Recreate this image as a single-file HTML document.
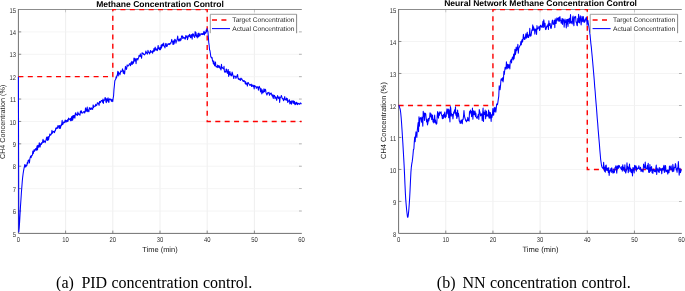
<!DOCTYPE html>
<html><head><meta charset="utf-8"><title>Methane concentration control</title>
<style>
html,body{margin:0;padding:0;background:#fff;}
body{width:685px;height:291px;overflow:hidden;position:relative;}
svg{position:absolute;left:0;top:0;display:block;}
svg text{font-family:"Liberation Sans", sans-serif;text-rendering:geometricPrecision;}
.cap{position:absolute;top:271.7px;font-family:"Liberation Serif", serif;font-size:16px;line-height:22px;color:#000;white-space:pre;}
</style></head>
<body>
<svg width="685" height="291" viewBox="0 0 685 291">
<line x1="65.60" y1="9.5" x2="65.60" y2="233.4" stroke="#e8e8e8" stroke-width="0.7"/>
<line x1="112.80" y1="9.5" x2="112.80" y2="233.4" stroke="#e8e8e8" stroke-width="0.7"/>
<line x1="160.00" y1="9.5" x2="160.00" y2="233.4" stroke="#e8e8e8" stroke-width="0.7"/>
<line x1="207.20" y1="9.5" x2="207.20" y2="233.4" stroke="#e8e8e8" stroke-width="0.7"/>
<line x1="254.40" y1="9.5" x2="254.40" y2="233.4" stroke="#e8e8e8" stroke-width="0.7"/>
<line x1="18.4" y1="211.01" x2="301.6" y2="211.01" stroke="#f1f1f1" stroke-width="0.8"/>
<line x1="18.4" y1="188.62" x2="301.6" y2="188.62" stroke="#f1f1f1" stroke-width="0.8"/>
<line x1="18.4" y1="166.23" x2="301.6" y2="166.23" stroke="#f1f1f1" stroke-width="0.8"/>
<line x1="18.4" y1="143.84" x2="301.6" y2="143.84" stroke="#f1f1f1" stroke-width="0.8"/>
<line x1="18.4" y1="121.45" x2="301.6" y2="121.45" stroke="#f1f1f1" stroke-width="0.8"/>
<line x1="18.4" y1="99.06" x2="301.6" y2="99.06" stroke="#f1f1f1" stroke-width="0.8"/>
<line x1="18.4" y1="76.67" x2="301.6" y2="76.67" stroke="#f1f1f1" stroke-width="0.8"/>
<line x1="18.4" y1="54.28" x2="301.6" y2="54.28" stroke="#f1f1f1" stroke-width="0.8"/>
<line x1="18.4" y1="31.89" x2="301.6" y2="31.89" stroke="#f1f1f1" stroke-width="0.8"/>
<path d="M18.4,9.5 L301.80,9.5" fill="none" stroke="#8c8c8c" stroke-width="1"/>
<path d="M18.4,9.0 L18.4,233.4 L301.80,233.4" fill="none" stroke="#707070" stroke-width="1"/>
<text transform="translate(18.40,241.60) scale(0.84,1)" font-size="7.0" text-anchor="middle" fill="#2e2e2e">0</text>
<line x1="65.60" y1="233.4" x2="65.60" y2="230.6" stroke="#707070" stroke-width="0.8"/>
<line x1="65.60" y1="9.5" x2="65.60" y2="12.3" stroke="#707070" stroke-width="0.6" opacity="0.6"/>
<text transform="translate(65.60,241.60) scale(0.84,1)" font-size="7.0" text-anchor="middle" fill="#2e2e2e">10</text>
<line x1="112.80" y1="233.4" x2="112.80" y2="230.6" stroke="#707070" stroke-width="0.8"/>
<line x1="112.80" y1="9.5" x2="112.80" y2="12.3" stroke="#707070" stroke-width="0.6" opacity="0.6"/>
<text transform="translate(112.80,241.60) scale(0.84,1)" font-size="7.0" text-anchor="middle" fill="#2e2e2e">20</text>
<line x1="160.00" y1="233.4" x2="160.00" y2="230.6" stroke="#707070" stroke-width="0.8"/>
<line x1="160.00" y1="9.5" x2="160.00" y2="12.3" stroke="#707070" stroke-width="0.6" opacity="0.6"/>
<text transform="translate(160.00,241.60) scale(0.84,1)" font-size="7.0" text-anchor="middle" fill="#2e2e2e">30</text>
<line x1="207.20" y1="233.4" x2="207.20" y2="230.6" stroke="#707070" stroke-width="0.8"/>
<line x1="207.20" y1="9.5" x2="207.20" y2="12.3" stroke="#707070" stroke-width="0.6" opacity="0.6"/>
<text transform="translate(207.20,241.60) scale(0.84,1)" font-size="7.0" text-anchor="middle" fill="#2e2e2e">40</text>
<line x1="254.40" y1="233.4" x2="254.40" y2="230.6" stroke="#707070" stroke-width="0.8"/>
<line x1="254.40" y1="9.5" x2="254.40" y2="12.3" stroke="#707070" stroke-width="0.6" opacity="0.6"/>
<text transform="translate(254.40,241.60) scale(0.84,1)" font-size="7.0" text-anchor="middle" fill="#2e2e2e">50</text>
<text transform="translate(301.60,241.60) scale(0.84,1)" font-size="7.0" text-anchor="middle" fill="#2e2e2e">60</text>
<text transform="translate(16.00,236.50) scale(0.84,1)" font-size="7.0" text-anchor="end" fill="#2e2e2e">5</text>
<line x1="18.4" y1="211.01" x2="21.2" y2="211.01" stroke="#707070" stroke-width="0.8"/>
<line x1="301.80" y1="211.01" x2="299.00" y2="211.01" stroke="#707070" stroke-width="0.7" opacity="0.7"/>
<text transform="translate(16.00,214.11) scale(0.84,1)" font-size="7.0" text-anchor="end" fill="#2e2e2e">6</text>
<line x1="18.4" y1="188.62" x2="21.2" y2="188.62" stroke="#707070" stroke-width="0.8"/>
<line x1="301.80" y1="188.62" x2="299.00" y2="188.62" stroke="#707070" stroke-width="0.7" opacity="0.7"/>
<text transform="translate(16.00,191.72) scale(0.84,1)" font-size="7.0" text-anchor="end" fill="#2e2e2e">7</text>
<line x1="18.4" y1="166.23" x2="21.2" y2="166.23" stroke="#707070" stroke-width="0.8"/>
<line x1="301.80" y1="166.23" x2="299.00" y2="166.23" stroke="#707070" stroke-width="0.7" opacity="0.7"/>
<text transform="translate(16.00,169.33) scale(0.84,1)" font-size="7.0" text-anchor="end" fill="#2e2e2e">8</text>
<line x1="18.4" y1="143.84" x2="21.2" y2="143.84" stroke="#707070" stroke-width="0.8"/>
<line x1="301.80" y1="143.84" x2="299.00" y2="143.84" stroke="#707070" stroke-width="0.7" opacity="0.7"/>
<text transform="translate(16.00,146.94) scale(0.84,1)" font-size="7.0" text-anchor="end" fill="#2e2e2e">9</text>
<line x1="18.4" y1="121.45" x2="21.2" y2="121.45" stroke="#707070" stroke-width="0.8"/>
<line x1="301.80" y1="121.45" x2="299.00" y2="121.45" stroke="#707070" stroke-width="0.7" opacity="0.7"/>
<text transform="translate(16.00,124.55) scale(0.84,1)" font-size="7.0" text-anchor="end" fill="#2e2e2e">10</text>
<line x1="18.4" y1="99.06" x2="21.2" y2="99.06" stroke="#707070" stroke-width="0.8"/>
<line x1="301.80" y1="99.06" x2="299.00" y2="99.06" stroke="#707070" stroke-width="0.7" opacity="0.7"/>
<text transform="translate(16.00,102.16) scale(0.84,1)" font-size="7.0" text-anchor="end" fill="#2e2e2e">11</text>
<line x1="18.4" y1="76.67" x2="21.2" y2="76.67" stroke="#707070" stroke-width="0.8"/>
<line x1="301.80" y1="76.67" x2="299.00" y2="76.67" stroke="#707070" stroke-width="0.7" opacity="0.7"/>
<text transform="translate(16.00,79.77) scale(0.84,1)" font-size="7.0" text-anchor="end" fill="#2e2e2e">12</text>
<line x1="18.4" y1="54.28" x2="21.2" y2="54.28" stroke="#707070" stroke-width="0.8"/>
<line x1="301.80" y1="54.28" x2="299.00" y2="54.28" stroke="#707070" stroke-width="0.7" opacity="0.7"/>
<text transform="translate(16.00,57.38) scale(0.84,1)" font-size="7.0" text-anchor="end" fill="#2e2e2e">13</text>
<line x1="18.4" y1="31.89" x2="21.2" y2="31.89" stroke="#707070" stroke-width="0.8"/>
<line x1="301.80" y1="31.89" x2="299.00" y2="31.89" stroke="#707070" stroke-width="0.7" opacity="0.7"/>
<text transform="translate(16.00,34.99) scale(0.84,1)" font-size="7.0" text-anchor="end" fill="#2e2e2e">14</text>
<text transform="translate(16.00,12.60) scale(0.84,1)" font-size="7.0" text-anchor="end" fill="#2e2e2e">15</text>
<clipPath id="clip18"><rect x="16.9" y="9.0" width="286.20000000000005" height="225.9"/></clipPath>
<g clip-path="url(#clip18)">
<path d="M18.40,76.67 L112.80,76.67 L112.80,9.50 L207.20,9.50 L207.20,121.45 L301.60,121.45" fill="none" stroke="#ff0000" stroke-width="1.4" stroke-dasharray="5 4.4"/>
<polyline points="18.40,76.67 18.82,232.01 19.25,227.59 19.67,220.96 20.10,213.10 20.52,205.89 20.95,199.48 21.37,192.96 21.80,187.41 22.22,181.97 22.65,177.32 23.07,173.97 23.50,171.07 23.92,168.90 24.35,166.77 24.77,164.59 25.20,167.07 25.62,165.07 26.05,166.67 26.47,165.08 26.90,165.50 27.32,162.39 27.75,163.61 28.17,160.45 28.60,160.07 29.02,160.01 29.44,162.99 29.87,158.93 30.29,157.10 30.72,156.01 31.14,157.73 31.57,155.44 31.99,155.69 32.42,154.77 32.84,151.11 33.27,153.61 33.69,151.66 34.12,149.65 34.54,151.30 34.97,149.88 35.39,149.04 35.82,148.46 36.24,150.53 36.67,148.17 37.09,145.80 37.52,149.95 37.94,145.38 38.37,146.25 38.79,147.22 39.22,142.68 39.64,144.41 40.06,147.08 40.49,144.55 40.91,143.46 41.34,144.48 41.76,142.52 42.19,143.20 42.61,141.46 43.04,139.29 43.46,142.37 43.89,140.88 44.31,141.79 44.74,140.89 45.16,142.62 45.59,141.00 46.01,140.14 46.44,137.80 46.86,137.13 47.29,140.55 47.71,139.04 48.14,136.45 48.56,139.97 48.99,137.26 49.41,136.33 49.84,133.96 50.26,134.42 50.68,135.27 51.11,134.56 51.53,133.54 51.96,130.23 52.38,133.21 52.81,132.66 53.23,131.39 53.66,131.81 54.08,131.46 54.51,132.66 54.93,130.56 55.36,130.83 55.78,128.00 56.21,128.45 56.63,128.74 57.06,127.25 57.48,128.31 57.91,125.61 58.33,127.08 58.76,125.90 59.18,128.45 59.61,125.44 60.03,128.31 60.46,128.31 60.88,124.99 61.30,125.77 61.73,123.77 62.15,120.24 62.58,124.72 63.00,124.22 63.43,122.68 63.85,121.90 64.28,122.73 64.70,122.11 65.13,120.10 65.55,120.22 65.98,122.34 66.40,120.67 66.83,120.48 67.25,121.63 67.68,119.52 68.10,121.23 68.53,118.06 68.95,119.29 69.38,119.15 69.80,119.63 70.23,118.54 70.65,120.82 71.08,119.15 71.50,116.82 71.92,120.62 72.35,116.05 72.77,120.01 73.20,115.59 73.62,117.85 74.05,115.22 74.47,115.75 74.90,118.21 75.32,113.48 75.75,112.68 76.17,114.83 76.60,114.92 77.02,114.40 77.45,115.42 77.87,111.99 78.30,114.30 78.72,113.69 79.15,114.72 79.57,114.34 80.00,115.18 80.42,110.99 80.85,112.76 81.27,110.75 81.70,112.24 82.12,113.19 82.54,112.68 82.97,112.87 83.39,111.72 83.82,111.88 84.24,111.61 84.67,113.02 85.09,111.93 85.52,107.90 85.94,111.13 86.37,111.26 86.79,108.93 87.22,107.11 87.64,111.65 88.07,109.74 88.49,110.23 88.92,111.80 89.34,107.59 89.77,108.81 90.19,108.44 90.62,109.52 91.04,107.69 91.47,109.10 91.89,108.19 92.32,109.39 92.74,109.08 93.16,104.90 93.59,107.56 94.01,106.00 94.44,106.17 94.86,106.35 95.29,106.28 95.71,104.28 96.14,105.66 96.56,105.34 96.99,104.82 97.41,102.67 97.84,103.11 98.26,103.03 98.69,104.24 99.11,105.37 99.54,101.60 99.96,101.53 100.39,102.64 100.81,101.38 101.24,100.78 101.66,100.48 102.09,100.43 102.51,102.33 102.94,99.04 103.36,103.40 103.78,99.99 104.21,100.55 104.63,99.70 105.06,97.55 105.48,97.93 105.91,101.79 106.33,102.65 106.76,98.65 107.18,101.15 107.61,99.46 108.03,97.83 108.46,101.71 108.88,102.39 109.31,98.81 109.73,99.12 110.16,99.47 110.58,99.10 111.01,100.40 111.43,101.33 111.86,99.29 112.28,100.62 112.71,101.63 113.13,98.33 113.56,95.98 113.98,89.35 114.40,85.56 114.83,80.84 115.25,80.02 115.68,79.33 116.10,76.87 116.53,77.95 116.95,75.56 117.38,74.62 117.80,71.25 118.23,76.03 118.65,72.07 119.08,73.48 119.50,73.22 119.93,74.85 120.35,73.20 120.78,70.83 121.20,71.79 121.63,71.21 122.05,71.25 122.48,68.88 122.90,70.34 123.33,73.50 123.75,70.81 124.18,72.30 124.60,74.05 125.02,69.81 125.45,66.40 125.87,68.01 126.30,69.46 126.72,68.43 127.15,64.80 127.57,66.11 128.00,66.02 128.42,65.84 128.85,65.31 129.27,63.86 129.70,63.64 130.12,63.86 130.55,65.78 130.97,62.62 131.40,64.31 131.82,61.26 132.25,64.51 132.67,62.43 133.10,61.70 133.52,63.30 133.95,58.08 134.37,58.19 134.80,61.11 135.22,58.74 135.64,59.10 136.07,63.63 136.49,58.81 136.92,59.03 137.34,58.49 137.77,60.01 138.19,58.45 138.62,57.88 139.04,55.43 139.47,56.30 139.89,56.35 140.32,53.76 140.74,56.49 141.17,56.22 141.59,58.27 142.02,52.85 142.44,53.63 142.87,53.14 143.29,53.68 143.72,54.42 144.14,54.20 144.57,54.85 144.99,54.21 145.42,53.48 145.84,51.03 146.26,52.35 146.69,53.22 147.11,53.70 147.54,53.97 147.96,50.28 148.39,51.94 148.81,52.46 149.24,52.65 149.66,53.88 150.09,51.88 150.51,50.48 150.94,52.38 151.36,52.04 151.79,51.92 152.21,51.04 152.64,53.28 153.06,50.79 153.49,51.45 153.91,48.62 154.34,51.19 154.76,48.82 155.19,47.16 155.61,49.92 156.04,50.22 156.46,48.91 156.88,49.17 157.31,50.62 157.73,48.00 158.16,45.42 158.58,48.75 159.01,48.48 159.43,49.71 159.86,47.28 160.28,49.67 160.71,48.88 161.13,44.95 161.56,47.99 161.98,44.50 162.41,43.98 162.83,45.87 163.26,45.39 163.68,43.12 164.11,46.20 164.53,46.61 164.96,47.90 165.38,45.55 165.81,43.40 166.23,43.93 166.66,46.56 167.08,46.29 167.50,45.27 167.93,43.84 168.35,44.51 168.78,43.79 169.20,43.57 169.63,44.62 170.05,43.95 170.48,42.91 170.90,43.17 171.33,41.68 171.75,39.40 172.18,41.38 172.60,41.92 173.03,44.55 173.45,40.84 173.88,44.11 174.30,43.01 174.73,39.25 175.15,39.50 175.58,40.81 176.00,43.12 176.43,40.74 176.85,40.92 177.28,38.52 177.70,36.03 178.12,39.20 178.55,40.46 178.97,41.19 179.40,39.11 179.82,39.12 180.25,40.79 180.67,38.57 181.10,39.96 181.52,36.07 181.95,35.95 182.37,35.90 182.80,38.57 183.22,36.90 183.65,37.74 184.07,37.99 184.50,37.62 184.92,39.03 185.35,39.10 185.77,35.55 186.20,37.33 186.62,36.81 187.05,35.75 187.47,39.71 187.90,38.03 188.32,36.29 188.74,35.34 189.17,36.43 189.59,34.23 190.02,35.41 190.44,37.68 190.87,37.44 191.29,34.64 191.72,35.25 192.14,39.27 192.57,33.83 192.99,35.15 193.42,34.06 193.84,36.53 194.27,36.56 194.69,37.46 195.12,31.46 195.54,35.64 195.97,32.62 196.39,36.36 196.82,35.04 197.24,37.90 197.67,35.92 198.09,33.37 198.52,36.89 198.94,33.13 199.36,34.07 199.79,36.10 200.21,35.08 200.64,34.51 201.06,33.52 201.49,34.36 201.91,34.52 202.34,33.45 202.76,34.60 203.19,34.58 203.61,32.49 204.04,31.22 204.46,34.90 204.89,32.35 205.31,32.98 205.74,33.20 206.16,30.07 206.59,32.00 207.01,28.63 207.44,30.77 207.86,30.71 208.29,35.79 208.71,42.14 209.14,45.13 209.56,49.74 209.98,50.74 210.41,53.68 210.83,57.08 211.26,56.96 211.68,58.13 212.11,57.58 212.53,61.31 212.96,60.80 213.38,63.92 213.81,61.01 214.23,64.21 214.66,65.82 215.08,63.31 215.51,61.93 215.93,66.78 216.36,66.48 216.78,66.73 217.21,67.58 217.63,65.09 218.06,67.07 218.48,67.14 218.91,65.48 219.33,67.75 219.76,66.19 220.18,68.46 220.60,68.83 221.03,69.95 221.45,64.25 221.88,67.88 222.30,67.31 222.73,68.21 223.15,68.38 223.58,68.94 224.00,66.29 224.43,71.35 224.85,72.32 225.28,71.55 225.70,72.00 226.13,68.98 226.55,69.14 226.98,72.24 227.40,73.44 227.83,71.84 228.25,69.42 228.68,76.37 229.10,71.67 229.53,74.72 229.95,71.52 230.38,74.99 230.80,73.92 231.22,76.02 231.65,75.52 232.07,72.01 232.50,73.09 232.92,75.24 233.35,76.48 233.77,78.56 234.20,76.16 234.62,76.10 235.05,76.23 235.47,76.31 235.90,78.43 236.32,76.83 236.75,77.00 237.17,75.19 237.60,74.48 238.02,78.01 238.45,79.25 238.87,78.50 239.30,79.65 239.72,79.81 240.15,78.87 240.57,80.41 241.00,78.05 241.42,79.31 241.84,78.91 242.27,79.79 242.69,80.62 243.12,81.34 243.54,80.63 243.97,81.39 244.39,80.76 244.82,81.32 245.24,83.72 245.67,81.87 246.09,84.35 246.52,83.59 246.94,83.24 247.37,86.08 247.79,82.54 248.22,82.56 248.64,83.29 249.07,84.16 249.49,84.39 249.92,85.58 250.34,84.58 250.77,84.90 251.19,84.17 251.62,86.59 252.04,84.75 252.46,85.55 252.89,86.37 253.31,86.68 253.74,85.20 254.16,88.90 254.59,85.54 255.01,86.11 255.44,86.35 255.86,86.30 256.29,88.28 256.71,88.01 257.14,86.69 257.56,86.99 257.99,87.36 258.41,90.16 258.84,87.07 259.26,86.37 259.69,87.22 260.11,88.83 260.54,92.00 260.96,88.45 261.39,90.05 261.81,94.05 262.24,89.88 262.66,92.78 263.08,92.73 263.51,91.84 263.93,88.82 264.36,91.66 264.78,90.92 265.21,89.18 265.63,89.86 266.06,92.94 266.48,93.54 266.91,95.00 267.33,94.07 267.76,92.53 268.18,92.80 268.61,93.21 269.03,92.25 269.46,95.32 269.88,94.21 270.31,93.39 270.73,93.86 271.16,93.01 271.58,94.36 272.01,95.84 272.43,94.85 272.86,97.18 273.28,98.38 273.70,94.91 274.13,96.12 274.55,95.45 274.98,98.77 275.40,96.71 275.83,97.24 276.25,98.21 276.68,100.36 277.10,97.57 277.53,95.62 277.95,96.52 278.38,98.39 278.80,97.82 279.23,96.86 279.65,102.49 280.08,98.24 280.50,97.22 280.93,97.08 281.35,95.50 281.78,96.70 282.20,98.40 282.63,98.86 283.05,98.64 283.48,100.67 283.90,99.95 284.32,98.28 284.75,96.50 285.17,99.94 285.60,99.66 286.02,99.59 286.45,98.04 286.87,100.55 287.30,98.44 287.72,102.45 288.15,101.34 288.57,101.28 289.00,100.12 289.42,99.74 289.85,103.98 290.27,103.37 290.70,101.19 291.12,102.91 291.55,104.16 291.97,100.51 292.40,101.45 292.82,101.64 293.25,103.29 293.67,100.81 294.10,103.41 294.52,101.44 294.94,104.76 295.37,104.59 295.79,102.65 296.22,104.04 296.64,102.20 297.07,102.97 297.49,104.72 297.92,103.29 298.34,103.79 298.77,103.42 299.19,104.27 299.62,104.17 300.04,103.44 300.47,102.93 300.89,103.14 301.32,104.25" fill="none" stroke="#0000ff" stroke-width="1.05" stroke-linejoin="round"/>
</g>
<text x="160.00" y="251.6" font-size="7.45" text-anchor="middle" fill="#161616">Time (min)</text>
<text transform="translate(4.9,121.85) rotate(-90)" font-size="7.2" text-anchor="middle" fill="#1c1c1c">CH4 Concentration (%)</text>
<text x="160.00" y="6.8" font-size="8.55" font-weight="bold" text-anchor="middle" fill="#000">Methane Concentration Control</text>
<rect x="210.3" y="14.3" width="86.30" height="18.9" fill="#fff"/>
<path d="M210.3,33.2 L210.3,14.3 L296.6,14.3" fill="none" stroke="#868686" stroke-width="0.8"/>
<path d="M296.6,14.3 L296.6,33.2" fill="none" stroke="#7a7a7a" stroke-width="0.9"/>
<line x1="212.00" y1="20" x2="226.80" y2="20" stroke="#ff0000" stroke-width="1.4" stroke-dasharray="5 4.4"/>
<line x1="212.00" y1="28.6" x2="230.00" y2="28.6" stroke="#0000ff" stroke-width="1.05"/>
<text x="232.30" y="22.3" font-size="6.7" fill="#2a2a2a">Target Concentration</text>
<text x="232.30" y="31.35" font-size="6.7" fill="#2a2a2a">Actual Concentration</text>
<line x1="445.77" y1="9.5" x2="445.77" y2="233.4" stroke="#e8e8e8" stroke-width="0.7"/>
<line x1="492.93" y1="9.5" x2="492.93" y2="233.4" stroke="#e8e8e8" stroke-width="0.7"/>
<line x1="540.10" y1="9.5" x2="540.10" y2="233.4" stroke="#e8e8e8" stroke-width="0.7"/>
<line x1="587.27" y1="9.5" x2="587.27" y2="233.4" stroke="#e8e8e8" stroke-width="0.7"/>
<line x1="634.43" y1="9.5" x2="634.43" y2="233.4" stroke="#e8e8e8" stroke-width="0.7"/>
<line x1="398.6" y1="201.41" x2="681.6" y2="201.41" stroke="#f1f1f1" stroke-width="0.8"/>
<line x1="398.6" y1="169.43" x2="681.6" y2="169.43" stroke="#f1f1f1" stroke-width="0.8"/>
<line x1="398.6" y1="137.44" x2="681.6" y2="137.44" stroke="#f1f1f1" stroke-width="0.8"/>
<line x1="398.6" y1="105.46" x2="681.6" y2="105.46" stroke="#f1f1f1" stroke-width="0.8"/>
<line x1="398.6" y1="73.47" x2="681.6" y2="73.47" stroke="#f1f1f1" stroke-width="0.8"/>
<line x1="398.6" y1="41.49" x2="681.6" y2="41.49" stroke="#f1f1f1" stroke-width="0.8"/>
<path d="M398.6,9.5 L681.80,9.5" fill="none" stroke="#8c8c8c" stroke-width="1"/>
<path d="M398.6,9.0 L398.6,233.4 L681.80,233.4" fill="none" stroke="#707070" stroke-width="1"/>
<text transform="translate(398.60,241.60) scale(0.84,1)" font-size="7.0" text-anchor="middle" fill="#2e2e2e">0</text>
<line x1="445.77" y1="233.4" x2="445.77" y2="230.6" stroke="#707070" stroke-width="0.8"/>
<line x1="445.77" y1="9.5" x2="445.77" y2="12.3" stroke="#707070" stroke-width="0.6" opacity="0.6"/>
<text transform="translate(445.77,241.60) scale(0.84,1)" font-size="7.0" text-anchor="middle" fill="#2e2e2e">10</text>
<line x1="492.93" y1="233.4" x2="492.93" y2="230.6" stroke="#707070" stroke-width="0.8"/>
<line x1="492.93" y1="9.5" x2="492.93" y2="12.3" stroke="#707070" stroke-width="0.6" opacity="0.6"/>
<text transform="translate(492.93,241.60) scale(0.84,1)" font-size="7.0" text-anchor="middle" fill="#2e2e2e">20</text>
<line x1="540.10" y1="233.4" x2="540.10" y2="230.6" stroke="#707070" stroke-width="0.8"/>
<line x1="540.10" y1="9.5" x2="540.10" y2="12.3" stroke="#707070" stroke-width="0.6" opacity="0.6"/>
<text transform="translate(540.10,241.60) scale(0.84,1)" font-size="7.0" text-anchor="middle" fill="#2e2e2e">30</text>
<line x1="587.27" y1="233.4" x2="587.27" y2="230.6" stroke="#707070" stroke-width="0.8"/>
<line x1="587.27" y1="9.5" x2="587.27" y2="12.3" stroke="#707070" stroke-width="0.6" opacity="0.6"/>
<text transform="translate(587.27,241.60) scale(0.84,1)" font-size="7.0" text-anchor="middle" fill="#2e2e2e">40</text>
<line x1="634.43" y1="233.4" x2="634.43" y2="230.6" stroke="#707070" stroke-width="0.8"/>
<line x1="634.43" y1="9.5" x2="634.43" y2="12.3" stroke="#707070" stroke-width="0.6" opacity="0.6"/>
<text transform="translate(634.43,241.60) scale(0.84,1)" font-size="7.0" text-anchor="middle" fill="#2e2e2e">50</text>
<text transform="translate(681.60,241.60) scale(0.84,1)" font-size="7.0" text-anchor="middle" fill="#2e2e2e">60</text>
<text transform="translate(396.20,236.50) scale(0.84,1)" font-size="7.0" text-anchor="end" fill="#2e2e2e">8</text>
<line x1="398.6" y1="201.41" x2="401.40000000000003" y2="201.41" stroke="#707070" stroke-width="0.8"/>
<line x1="681.80" y1="201.41" x2="679.00" y2="201.41" stroke="#707070" stroke-width="0.7" opacity="0.7"/>
<text transform="translate(396.20,204.51) scale(0.84,1)" font-size="7.0" text-anchor="end" fill="#2e2e2e">9</text>
<line x1="398.6" y1="169.43" x2="401.40000000000003" y2="169.43" stroke="#707070" stroke-width="0.8"/>
<line x1="681.80" y1="169.43" x2="679.00" y2="169.43" stroke="#707070" stroke-width="0.7" opacity="0.7"/>
<text transform="translate(396.20,172.53) scale(0.84,1)" font-size="7.0" text-anchor="end" fill="#2e2e2e">10</text>
<line x1="398.6" y1="137.44" x2="401.40000000000003" y2="137.44" stroke="#707070" stroke-width="0.8"/>
<line x1="681.80" y1="137.44" x2="679.00" y2="137.44" stroke="#707070" stroke-width="0.7" opacity="0.7"/>
<text transform="translate(396.20,140.54) scale(0.84,1)" font-size="7.0" text-anchor="end" fill="#2e2e2e">11</text>
<line x1="398.6" y1="105.46" x2="401.40000000000003" y2="105.46" stroke="#707070" stroke-width="0.8"/>
<line x1="681.80" y1="105.46" x2="679.00" y2="105.46" stroke="#707070" stroke-width="0.7" opacity="0.7"/>
<text transform="translate(396.20,108.56) scale(0.84,1)" font-size="7.0" text-anchor="end" fill="#2e2e2e">12</text>
<line x1="398.6" y1="73.47" x2="401.40000000000003" y2="73.47" stroke="#707070" stroke-width="0.8"/>
<line x1="681.80" y1="73.47" x2="679.00" y2="73.47" stroke="#707070" stroke-width="0.7" opacity="0.7"/>
<text transform="translate(396.20,76.57) scale(0.84,1)" font-size="7.0" text-anchor="end" fill="#2e2e2e">13</text>
<line x1="398.6" y1="41.49" x2="401.40000000000003" y2="41.49" stroke="#707070" stroke-width="0.8"/>
<line x1="681.80" y1="41.49" x2="679.00" y2="41.49" stroke="#707070" stroke-width="0.7" opacity="0.7"/>
<text transform="translate(396.20,44.59) scale(0.84,1)" font-size="7.0" text-anchor="end" fill="#2e2e2e">14</text>
<text transform="translate(396.20,12.60) scale(0.84,1)" font-size="7.0" text-anchor="end" fill="#2e2e2e">15</text>
<clipPath id="clip398"><rect x="397.1" y="9.0" width="286.0" height="225.9"/></clipPath>
<g clip-path="url(#clip398)">
<path d="M398.60,105.46 L492.93,105.46 L492.93,9.50 L587.27,9.50 L587.27,169.43 L681.60,169.43" fill="none" stroke="#ff0000" stroke-width="1.4" stroke-dasharray="5 4.4"/>
<polyline points="398.60,105.46 399.02,105.47 399.45,107.17 399.87,108.25 400.30,109.94 400.72,112.96 401.15,117.55 401.57,122.92 402.00,129.47 402.42,136.33 402.85,142.99 403.27,150.46 403.69,157.69 404.12,165.35 404.54,174.39 404.97,184.51 405.39,193.43 405.82,200.66 406.24,205.36 406.67,210.19 407.09,213.73 407.51,217.23 407.94,217.28 408.36,214.36 408.79,210.15 409.21,204.62 409.64,198.07 410.06,189.99 410.49,180.46 410.91,172.26 411.34,167.07 411.76,163.88 412.18,161.64 412.61,158.50 413.03,154.20 413.46,149.42 413.88,149.03 414.31,141.61 414.73,137.14 415.16,141.74 415.58,135.87 416.00,131.83 416.43,134.06 416.85,137.37 417.28,130.31 417.70,126.30 418.13,122.60 418.55,131.66 418.98,116.75 419.40,126.24 419.83,119.12 420.25,117.90 420.67,117.66 421.10,119.60 421.52,122.27 421.95,116.99 422.37,120.90 422.80,126.14 423.22,111.17 423.65,116.67 424.07,112.86 424.49,120.43 424.92,113.41 425.34,113.28 425.77,114.03 426.19,118.69 426.62,122.03 427.04,119.47 427.47,125.00 427.89,123.14 428.31,118.17 428.74,121.04 429.16,119.11 429.59,118.34 430.01,112.67 430.44,113.66 430.86,116.89 431.29,113.99 431.71,119.66 432.14,118.70 432.56,115.08 432.98,121.91 433.41,119.40 433.83,122.97 434.26,119.83 434.68,115.04 435.11,122.39 435.53,120.00 435.96,123.79 436.38,124.09 436.81,123.59 437.23,115.65 437.65,111.49 438.08,116.45 438.50,118.09 438.93,112.76 439.35,115.50 439.78,111.88 440.20,113.33 440.63,113.17 441.05,111.79 441.47,115.13 441.90,115.14 442.32,118.81 442.75,115.37 443.17,118.59 443.60,114.36 444.02,117.12 444.45,113.65 444.87,112.00 445.30,117.77 445.72,115.79 446.14,116.59 446.57,111.85 446.99,108.81 447.42,110.92 447.84,113.98 448.27,109.09 448.69,117.83 449.12,109.74 449.54,116.02 449.96,121.91 450.39,106.48 450.81,108.70 451.24,116.24 451.66,113.73 452.09,114.69 452.51,114.61 452.94,119.06 453.36,115.05 453.79,111.92 454.21,112.14 454.63,109.75 455.06,113.65 455.48,106.75 455.91,115.18 456.33,112.61 456.76,118.49 457.18,117.08 457.61,109.98 458.03,116.28 458.45,113.36 458.88,116.49 459.30,121.22 459.73,121.27 460.15,123.28 460.58,123.34 461.00,120.12 461.43,119.95 461.85,122.97 462.28,123.68 462.70,119.21 463.12,119.47 463.55,115.77 463.97,110.58 464.40,115.47 464.82,117.75 465.25,118.81 465.67,120.57 466.10,120.92 466.52,121.81 466.94,119.70 467.37,120.72 467.79,117.28 468.22,120.48 468.64,118.97 469.07,121.15 469.49,111.65 469.92,113.99 470.34,110.08 470.76,112.52 471.19,111.24 471.61,116.69 472.04,114.00 472.46,108.05 472.89,119.17 473.31,112.35 473.74,110.76 474.16,114.72 474.59,113.62 475.01,111.09 475.43,116.42 475.86,113.10 476.28,117.43 476.71,117.92 477.13,118.48 477.56,116.75 477.98,115.63 478.41,114.25 478.83,119.42 479.25,109.61 479.68,111.35 480.10,112.85 480.53,115.96 480.95,115.45 481.38,113.74 481.80,114.25 482.23,120.67 482.65,113.71 483.08,108.02 483.50,121.59 483.92,112.01 484.35,113.71 484.77,114.37 485.20,110.04 485.62,118.74 486.05,114.52 486.47,111.03 486.90,116.21 487.32,115.87 487.75,114.79 488.17,116.22 488.59,109.97 489.02,117.99 489.44,112.03 489.87,118.12 490.29,112.45 490.72,114.37 491.14,121.48 491.57,114.73 491.99,117.39 492.41,114.81 492.84,108.53 493.26,114.96 493.69,115.15 494.11,107.87 494.54,111.65 494.96,107.21 495.39,109.31 495.81,112.27 496.24,108.67 496.66,104.11 497.08,103.96 497.51,104.62 497.93,101.97 498.36,98.82 498.78,96.07 499.21,85.69 499.63,88.56 500.06,89.79 500.48,86.39 500.90,80.24 501.33,78.64 501.75,79.63 502.18,80.52 502.60,77.68 503.03,82.03 503.45,79.20 503.88,71.37 504.30,74.45 504.73,70.41 505.15,67.17 505.57,67.87 506.00,69.18 506.42,61.89 506.85,65.71 507.27,68.64 507.70,64.23 508.12,64.82 508.55,67.95 508.97,64.66 509.39,64.89 509.82,68.89 510.24,61.82 510.67,60.61 511.09,59.58 511.52,62.98 511.94,59.03 512.37,57.43 512.79,56.95 513.22,59.99 513.64,53.93 514.06,58.82 514.49,55.10 514.91,49.36 515.34,54.61 515.76,52.85 516.19,47.01 516.61,50.71 517.04,49.47 517.46,47.47 517.88,44.37 518.31,53.19 518.73,48.10 519.16,47.57 519.58,46.42 520.01,45.45 520.43,45.12 520.86,41.50 521.28,44.82 521.71,40.90 522.13,39.60 522.55,42.06 522.98,39.04 523.40,34.36 523.83,37.19 524.25,39.52 524.68,37.65 525.10,39.11 525.53,35.88 525.95,33.70 526.37,38.16 526.80,36.52 527.22,32.15 527.65,37.14 528.07,34.65 528.50,37.56 528.92,36.48 529.35,35.18 529.77,28.31 530.20,35.45 530.62,36.09 531.04,35.61 531.47,32.62 531.89,29.89 532.32,30.44 532.74,24.90 533.17,30.32 533.59,26.74 534.02,29.89 534.44,28.90 534.86,34.10 535.29,29.87 535.71,28.95 536.14,28.97 536.56,34.58 536.99,25.65 537.41,29.22 537.84,28.79 538.26,27.98 538.69,27.84 539.11,26.20 539.53,30.55 539.96,29.54 540.38,25.71 540.81,25.22 541.23,26.71 541.66,26.84 542.08,27.44 542.51,24.74 542.93,21.22 543.35,27.48 543.78,19.81 544.20,22.80 544.63,26.92 545.05,23.24 545.48,29.38 545.90,29.61 546.33,28.14 546.75,26.05 547.17,25.89 547.60,26.69 548.02,24.12 548.45,29.59 548.87,20.88 549.30,25.52 549.72,23.69 550.15,23.51 550.57,27.55 551.00,28.53 551.42,27.25 551.84,23.70 552.27,20.57 552.69,20.17 553.12,24.44 553.54,23.86 553.97,23.86 554.39,20.35 554.82,27.63 555.24,18.76 555.66,23.57 556.09,23.58 556.51,19.87 556.94,17.73 557.36,20.09 557.79,18.46 558.21,21.24 558.64,17.69 559.06,17.46 559.49,21.32 559.91,16.58 560.33,20.05 560.76,20.49 561.18,23.26 561.61,21.81 562.03,18.52 562.46,24.51 562.88,18.71 563.31,19.55 563.73,20.49 564.15,27.26 564.58,21.64 565.00,19.14 565.43,22.59 565.85,20.95 566.28,28.02 566.70,19.62 567.13,23.86 567.55,19.29 567.98,26.57 568.40,19.18 568.82,21.47 569.25,18.22 569.67,23.35 570.10,22.63 570.52,14.53 570.95,23.05 571.37,22.78 571.80,21.45 572.22,23.93 572.64,17.69 573.07,16.06 573.49,22.99 573.92,25.83 574.34,17.37 574.77,16.87 575.19,17.71 575.62,16.39 576.04,22.27 576.47,21.87 576.89,25.23 577.31,25.66 577.74,18.44 578.16,22.45 578.59,14.25 579.01,20.44 579.44,22.89 579.86,18.84 580.29,15.72 580.71,19.87 581.13,24.90 581.56,19.90 581.98,16.36 582.41,21.08 582.83,21.73 583.26,16.45 583.68,19.27 584.11,22.55 584.53,20.21 584.96,21.70 585.38,18.92 585.80,19.93 586.23,17.18 586.65,18.35 587.08,25.23 587.50,20.49 587.93,20.59 588.35,23.98 588.78,25.80 589.20,28.66 589.62,31.88 590.05,34.82 590.47,39.31 590.90,43.83 591.32,47.14 591.75,51.96 592.17,56.21 592.60,61.03 593.02,65.83 593.45,70.81 593.87,75.66 594.29,80.74 594.72,86.84 595.14,91.31 595.57,97.18 595.99,102.35 596.42,107.23 596.84,112.91 597.27,118.77 597.69,123.23 598.12,129.27 598.54,134.12 598.96,139.10 599.39,143.96 599.81,149.83 600.24,154.45 600.66,159.40 601.09,162.41 601.51,165.25 601.94,166.90 602.36,167.73 602.78,168.23 603.21,168.67 603.63,162.39 604.06,167.98 604.48,171.21 604.91,166.94 605.33,172.28 605.76,165.37 606.18,165.04 606.61,170.05 607.03,170.50 607.45,168.08 607.88,168.68 608.30,172.48 608.73,167.64 609.15,175.52 609.58,171.25 610.00,170.57 610.43,170.90 610.85,168.59 611.27,172.48 611.70,167.69 612.12,169.44 612.55,171.60 612.97,173.20 613.40,172.51 613.82,168.96 614.25,172.62 614.67,170.39 615.10,167.31 615.52,167.36 615.94,165.73 616.37,170.43 616.79,173.18 617.22,166.06 617.64,168.42 618.07,165.86 618.49,168.31 618.92,165.34 619.34,165.81 619.76,166.77 620.19,167.71 620.61,167.72 621.04,168.72 621.46,169.48 621.89,166.44 622.31,171.10 622.74,164.66 623.16,169.28 623.59,167.29 624.01,170.71 624.43,171.12 624.86,164.84 625.28,171.06 625.71,173.05 626.13,171.42 626.56,169.95 626.98,162.67 627.41,168.98 627.83,166.66 628.25,172.69 628.68,168.65 629.10,167.24 629.53,164.05 629.95,171.37 630.38,167.93 630.80,169.19 631.23,172.78 631.65,169.51 632.08,170.50 632.50,175.90 632.92,167.48 633.35,167.80 633.77,169.98 634.20,172.96 634.62,165.18 635.05,168.45 635.47,166.90 635.90,165.81 636.32,171.32 636.74,167.03 637.17,169.35 637.59,168.77 638.02,168.27 638.44,168.53 638.87,165.68 639.29,168.17 639.72,169.39 640.14,168.95 640.57,167.22 640.99,171.44 641.41,169.99 641.84,169.60 642.26,171.25 642.69,170.54 643.11,172.05 643.54,164.13 643.96,165.72 644.39,166.98 644.81,168.21 645.23,162.03 645.66,167.36 646.08,169.09 646.51,168.62 646.93,168.26 647.36,165.26 647.78,169.56 648.21,163.23 648.63,172.21 649.06,168.06 649.48,172.38 649.90,164.51 650.33,171.13 650.75,170.44 651.18,167.19 651.60,166.59 652.03,172.83 652.45,170.08 652.88,173.46 653.30,168.95 653.72,169.82 654.15,170.68 654.57,171.59 655.00,170.55 655.42,171.85 655.85,167.91 656.27,164.97 656.70,174.57 657.12,169.16 657.55,170.23 657.97,167.92 658.39,171.93 658.82,169.82 659.24,172.48 659.67,167.57 660.09,169.91 660.52,170.19 660.94,168.69 661.37,170.54 661.79,173.83 662.21,168.16 662.64,169.07 663.06,170.08 663.49,166.84 663.91,165.36 664.34,172.38 664.76,172.11 665.19,165.42 665.61,165.99 666.04,171.14 666.46,171.73 666.88,170.52 667.31,170.01 667.73,174.08 668.16,170.11 668.58,172.77 669.01,172.72 669.43,166.10 669.86,170.05 670.28,168.54 670.70,166.54 671.13,165.85 671.55,169.67 671.98,169.60 672.40,171.73 672.83,164.24 673.25,166.91 673.68,171.44 674.10,168.66 674.53,167.31 674.95,167.65 675.37,163.63 675.80,164.83 676.22,170.00 676.65,168.86 677.07,172.34 677.50,167.86 677.92,168.63 678.35,161.46 678.77,168.42 679.19,175.13 679.62,170.71 680.04,168.33 680.47,172.66 680.89,171.17 681.32,169.69" fill="none" stroke="#0000ff" stroke-width="1.05" stroke-linejoin="round"/>
</g>
<text x="540.45" y="251.6" font-size="7.6" text-anchor="middle" fill="#161616">Time (min)</text>
<text transform="translate(385.6,120.55) rotate(-90)" font-size="7.45" text-anchor="middle" fill="#1c1c1c">CH4 Concentration (%)</text>
<text x="540.60" y="6.1" font-size="8.55" font-weight="bold" text-anchor="middle" fill="#000">Neural Network Methane Concentration Control</text>
<rect x="590.2" y="14.3" width="87.40" height="18.9" fill="#fff"/>
<path d="M590.2,33.2 L590.2,14.3 L677.6,14.3" fill="none" stroke="#868686" stroke-width="0.8"/>
<path d="M677.6,14.3 L677.6,33.2" fill="none" stroke="#7a7a7a" stroke-width="0.9"/>
<line x1="592.60" y1="20" x2="607.40" y2="20" stroke="#ff0000" stroke-width="1.4" stroke-dasharray="5 4.4"/>
<line x1="592.60" y1="28.6" x2="610.60" y2="28.6" stroke="#0000ff" stroke-width="1.05"/>
<text x="613.10" y="22.3" font-size="6.7" fill="#2a2a2a">Target Concentration</text>
<text x="613.10" y="31.35" font-size="6.7" fill="#2a2a2a">Actual Concentration</text>
</svg>
<div class="cap" style="left:56.1px">(a)</div><div class="cap" style="left:81.4px;word-spacing:0.35px">PID concentration control.</div>
<div class="cap" style="left:436.8px">(b)</div><div class="cap" style="left:462.4px;word-spacing:0.45px">NN concentration control.</div>
</body></html>
